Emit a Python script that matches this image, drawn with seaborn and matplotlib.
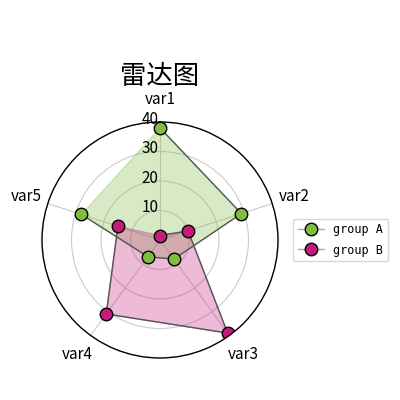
import numpy as np
import pandas as pd
import matplotlib
matplotlib.use('Agg')
import matplotlib.pyplot as plt
from matplotlib.transforms import offset_copy
import seaborn as sns

# 데이터
categories = ['var1', 'var2', 'var3', 'var4', 'var5']
group_names = ['A', 'B']
group_a = [38, 29, 8, 7, 28]
group_b = [1.5, 10, 39, 31, 15]
colors = ['#7fbc41', '#c51b7d']
r_ticks = [10, 20, 30, 40]

sns.set_style('white')
plt.rcParams['font.family'] = ['Noto Sans CJK SC', 'DejaVu Sans']
plt.rcParams['axes.unicode_minus'] = False
plt.rcParams['text.color'] = 'black'
plt.rcParams['xtick.color'] = 'black'
plt.rcParams['ytick.color'] = 'black'

n = len(categories)
angles = [i / float(n) * 2 * np.pi for i in range(n)]
angles += angles[:1]

fig = plt.figure(figsize=(4, 4), dpi=100)
ax = fig.add_axes([0.105, 0.105, 0.59, 0.59], polar=True)
ax.set_theta_offset(np.pi / 2)
ax.set_theta_direction(-1)

for name, vals, c in zip(group_names, [group_a, group_b], colors):
    v = list(vals) + [vals[0]]
    df = pd.DataFrame({'angle': angles, 'value': v})
    sns.lineplot(data=df, x='angle', y='value', ax=ax, sort=False,
                 color='#555555', linewidth=1, marker='o', markersize=9,
                 markerfacecolor=c, markeredgecolor='black', markeredgewidth=1,
                 label=f'group {name}')
    ax.fill(angles, v, color=c, alpha=0.3)

ax.set_xlabel('')
ax.set_ylabel('')
ax.set_xticks(angles[:-1])
ax.set_xticklabels(categories, fontsize=11)
ax.tick_params(axis='x', pad=6)
ax.set_yticks(r_ticks)
ax.set_yticklabels([])
ax.set_ylim(0, 40)
ax.grid(color='#cccccc', linewidth=0.8)
ax.spines['polar'].set_color('black')
ax.spines['polar'].set_linewidth(1)

# 반지름 눈금 글자: 축 왼쪽에 오른쪽 정렬
tr = offset_copy(ax.transData, fig=fig, x=-1, y=2, units='points')
for t in r_ticks:
    ax.text(0, t, str(t), transform=tr, ha='right', va='center', fontsize=11,
            clip_on=False)

leg = ax.legend(loc='center left', bbox_to_anchor=(1.04, 0.5),
                prop={'family': 'DejaVu Sans Mono', 'size': 8.5},
                handlelength=2.2, labelspacing=0.6)
for line in leg.get_lines():
    line.set_color('#aaaaaa')
fig.text(0.4, 0.81, '雷达图', fontsize=19, ha='center', va='center')

plt.savefig('out.png', dpi=100)
